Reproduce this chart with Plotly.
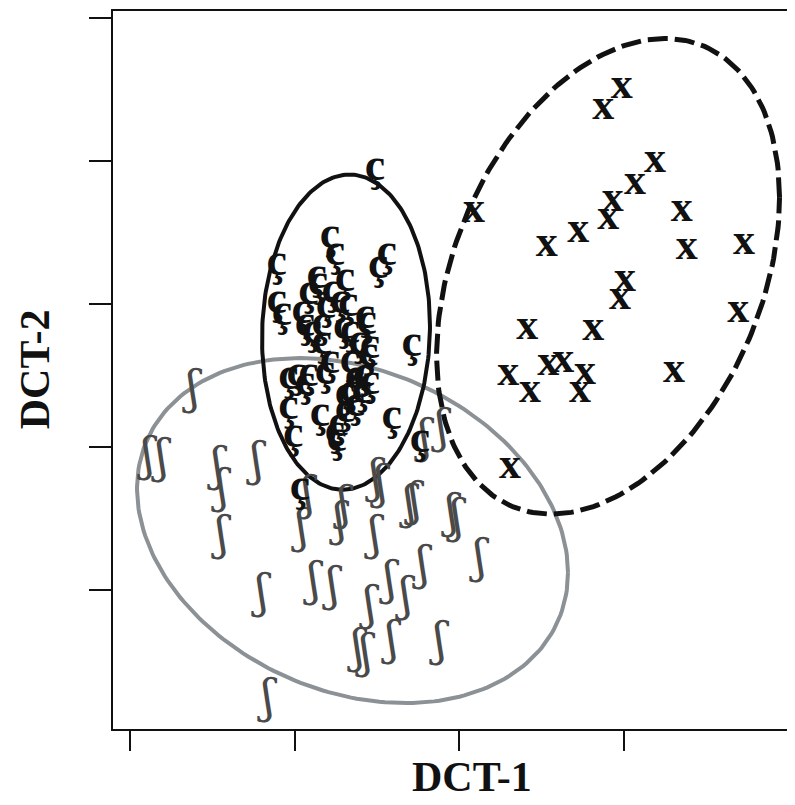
import numpy as np
import plotly.graph_objects as go

# ---- data (discriminant scores) ----
c_x = [-1.021, -1.568, -1.508, -0.879, -0.981, -2.216, -2.216, -1.730, -1.386, -1.832,
       -1.548, -1.346, -1.143, -1.912, -1.872, -1.669, -1.407, -1.122, -1.669, -1.224,
       -1.082, -0.575, -1.103, -2.075, -1.973, -1.832, -1.629, -1.264, -1.143, -1.082,
       -2.075, -1.690, -1.386, -1.467, -1.264, -1.183, -2.015, -0.818, -1.933, -0.474,
       -1.487, -1.508, -1.447, -1.617, -1.325, -1.787, -1.568, -1.325, -1.872, -1.325,
       -1.386, -1.167, -1.714, -2.152]
c_y = [1.900, 0.948, 0.715, 0.715, 0.530, 0.576, 0.042, 0.390, 0.344, 0.157,
       0.181, -0.004, -0.167, -0.098, -0.283, -0.283, -0.330, -0.261, -0.539, -0.539,
       -0.585, -0.562, -0.701, -1.027, -0.980, -0.980, -0.957, -1.027, -0.980, -1.097,
       -1.445, -1.537, -1.259, -1.677, -1.398, -1.213, -1.840, -1.585, -2.578, -1.909,
       -1.886, -1.794, 0.042, -0.028, -0.376, -0.376, -0.794, -0.794, -1.115, -1.213,
       -1.491, -1.003, 0.293, -0.125]

x_x = [1.978, 1.754, 2.383, 2.140, 1.869, 1.815, 0.182, 2.708, 1.066, 1.450,
       2.768, 3.465, 2.018, 1.957, 3.396, 0.830, 1.633, 2.614, 0.599, 0.863,
       1.086, 1.268, 1.532, 1.471, 0.620]
x_y = [3.038, 2.736, 2.003, 1.691, 1.459, 1.203, 1.296, 1.320, 0.832, 1.017,
       0.785, 0.854, 0.344, 0.088, -0.098, -0.330, -0.353, -0.934, -0.980, -1.213,
       -0.840, -0.794, -0.957, -1.213, -2.281]

s_x = [-3.234, -3.781, -3.611, -2.930, -2.881, -2.456, -2.881, -1.836, -1.909, -1.447,
       -1.398, -1.009, -0.948, -1.021, -0.596, -0.535, -0.085, -0.024, -0.438, 0.255,
       -1.763, -1.532, -0.839, -0.644, -1.082, -2.395, -1.228, -1.131, -0.815, -0.231,
       -2.322, -0.413, -0.207]
s_y = [-1.213, -2.160, -2.188, -2.300, -2.606, -2.230, -3.261, -2.704, -3.164, -3.066,
       -2.843, -2.467, -2.551, -3.261, -2.829, -2.787, -2.955, -3.024, -3.679, -3.582,
       -3.902, -3.972, -3.889, -4.111, -4.237, -4.070, -4.836, -4.906, -4.725, -4.739,
       -5.533, -1.909, -1.770]

# ellipse parameters per group: centre x, centre y, spread x, spread y, correlation
ell_c = [-1.374, -0.390, 1.021, 2.202, 0.04]
ell_x = [1.812, 0.390, 2.085, 3.324, 0.332]
ell_s = [-1.295, -3.164, 2.620, 2.411, -0.244]

x_ticks = [-4, -2, 0, 2, 4]
y_ticks = [-4, -2, 0, 2, 4]


def ellipse(p, n=240):
    cx, cy, sx, sy, rho = p
    t = np.linspace(0, 2 * np.pi, n)
    ex = cx + sx * np.cos(t)
    ey = cy + sy * (rho * np.cos(t) + np.sqrt(1 - rho ** 2) * np.sin(t))
    return ex, ey


fig = go.Figure()

ex, ey = ellipse(ell_s)
fig.add_trace(go.Scatter(x=ex, y=ey, mode="lines",
                         line=dict(color="#8c9196", width=4), hoverinfo="skip"))
ex, ey = ellipse(ell_c)
fig.add_trace(go.Scatter(x=ex, y=ey, mode="lines",
                         line=dict(color="#111111", width=4), hoverinfo="skip"))
ex, ey = ellipse(ell_x)
fig.add_trace(go.Scatter(x=ex, y=ey, mode="lines",
                         line=dict(color="#111111", width=5, dash="20px,7px"),
                         hoverinfo="skip"))

serif = "Liberation Serif, DejaVu Serif, serif"
fig.add_trace(go.Scatter(x=s_x, y=s_y, mode="text", text=["ʃ"] * len(s_x),
                         textfont=dict(family="DejaVu Serif, serif", size=46,
                                       color="#4a4a4a")))
fig.add_trace(go.Scatter(x=c_x, y=c_y, mode="text", text=["ç"] * len(c_x),
                         textfont=dict(family=serif, size=46, color="#111111",
                                       weight="bold")))
fig.add_trace(go.Scatter(x=x_x, y=x_y, mode="text", text=["x"] * len(x_x),
                         textfont=dict(family=serif, size=44, color="#111111",
                                       weight="bold")))

axis_common = dict(showticklabels=False, ticks="outside", tickwidth=2,
                   tickcolor="#111111", showline=True, linewidth=2,
                   linecolor="#111111", showgrid=False, zeroline=False)
fig.update_layout(
    width=795, height=805,
    margin=dict(l=105, r=8, t=1, b=84),
    plot_bgcolor="white", paper_bgcolor="white",
    showlegend=False,
    xaxis=dict(range=[-4.207, 4.085], tickvals=x_ticks, ticklen=20,
               mirror=True, **axis_common),
    yaxis=dict(range=[-5.937, 4.098], tickvals=y_ticks, ticklen=22,
               **axis_common),
    annotations=[
        dict(text="<b>DCT-1</b>", xref="paper", yref="paper", x=0.526, y=-0.0667,
             xanchor="center", yanchor="middle", showarrow=False,
             font=dict(family=serif, size=42, color="#111111")),
        dict(text="<b>DCT-2</b>", xref="paper", yref="paper", x=-0.1144, y=0.501,
             xanchor="center", yanchor="middle", showarrow=False, textangle=-90,
             font=dict(family=serif, size=42, color="#111111")),
    ],
)

fig.write_html("out.html")
